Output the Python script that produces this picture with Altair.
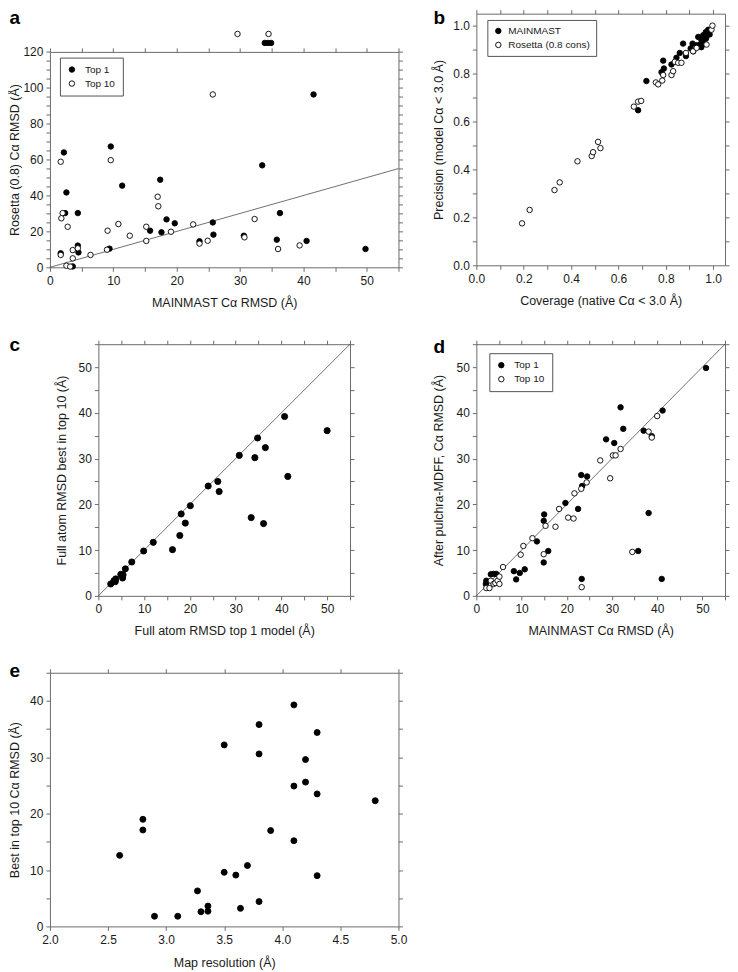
import altair as alt
import pandas as pd

FONT = "Liberation Sans"
AXC = "#6b6b6b"
TXT = "#1a1a1a"

# ---------------- panel a ----------------
a_top1_x = [2.2, 2.6, 2.4, 1.7, 4.4, 4.4, 4.5, 3.6, 9.6, 9.4, 11.4, 17.4, 15.8, 17.6, 18.4, 19.7,
            25.7, 25.8, 23.6, 30.6, 33.5, 35.8, 36.3, 40.5, 41.6, 49.8, 33.9, 34.4, 34.9]
a_top1_y = [64.0, 41.7, 30.2, 7.8, 30.2, 12.1, 8.3, 0.5, 67.3, 10.4, 45.5, 48.8, 20.4, 19.5, 26.7, 24.5,
            25.0, 18.2, 14.5, 17.6, 56.8, 15.4, 30.2, 14.7, 96.3, 10.2, 125, 125, 125]
a_top10_x = [1.7, 2.0, 1.8, 2.8, 1.7, 2.6, 3.2, 3.6, 3.6, 4.4, 6.4, 9.1, 9.0, 9.6, 10.8, 12.6, 15.2,
             15.2, 17.0, 17.1, 19.1, 22.6, 23.6, 24.9, 25.7, 30.7, 32.3, 36.0, 39.4, 29.6, 34.5]
a_top10_y = [58.8, 30.2, 27.3, 22.6, 6.9, 0.9, 0.4, 5.0, 9.6, 10.6, 6.9, 20.4, 9.8, 59.7, 24.1, 17.6, 22.6,
             14.7, 39.3, 34.0, 19.8, 23.9, 13.2, 14.8, 96.3, 16.7, 26.9, 10.2, 12.2, 130, 130]
a_series = ["Top 1", "Top 10"]

# ---------------- panel b ----------------
b_main_x = [0.683, 0.718, 0.782, 0.789, 0.792, 0.824, 0.845, 0.859, 0.873, 0.885, 0.905, 0.913, 0.916,
            0.930, 0.937, 0.946, 0.951, 0.958, 0.964, 0.964, 0.969, 0.979, 0.970, 0.950, 0.985]
b_main_y = [0.647, 0.769, 0.806, 0.854, 0.821, 0.838, 0.866, 0.886, 0.925, 0.873, 0.905, 0.925, 0.893,
            0.918, 0.953, 0.922, 0.939, 0.960, 0.925, 0.953, 0.973, 0.983, 0.946, 0.910, 0.963]
b_ros_x = [0.193, 0.225, 0.330, 0.352, 0.427, 0.487, 0.493, 0.514, 0.524, 0.665, 0.683, 0.696, 0.758,
           0.768, 0.785, 0.789, 0.824, 0.831, 0.838, 0.852, 0.866, 0.885, 0.915, 0.930, 0.972, 0.993, 0.997]
b_ros_y = [0.175, 0.231, 0.314, 0.346, 0.434, 0.456, 0.472, 0.515, 0.489, 0.662, 0.683, 0.686, 0.763,
           0.755, 0.771, 0.794, 0.794, 0.810, 0.849, 0.845, 0.845, 0.886, 0.893, 0.907, 0.921, 0.983, 1.000]
b_series = ["MAINMAST", "Rosetta (0.8 cons)"]

# ---------------- panel c ----------------
c_x = [2.7, 3.4, 3.8, 3.7, 4.9, 5.4, 5.3, 5.9, 7.3, 9.9, 12.0, 16.2, 17.8, 19.0, 18.1, 20.1, 24.0,
       26.1, 26.4, 30.8, 34.2, 34.8, 36.5, 40.7, 41.4, 50.0, 33.4, 36.1]
c_y = [2.6, 3.3, 3.7, 3.1, 4.7, 4.6, 3.9, 5.9, 7.4, 9.8, 11.7, 10.1, 13.2, 15.9, 17.9, 19.7, 24.0,
       25.0, 22.8, 30.7, 30.2, 34.5, 32.4, 39.2, 26.1, 36.1, 17.1, 15.8]

# ---------------- panel d ----------------
d_top1_x = [2.2, 2.1, 3.2, 3.8, 4.4, 8.3, 8.8, 9.6, 10.7, 13.4, 14.9, 15.9, 14.9, 15.0, 19.7, 22.5,
            23.3, 23.2, 24.5, 23.4, 28.7, 30.5, 31.9, 32.5, 37.0, 38.8, 38.1, 35.8, 41.0, 41.2, 50.8]
d_top1_y = [3.3, 2.6, 4.7, 4.8, 4.8, 5.4, 3.6, 5.0, 5.8, 11.9, 7.3, 9.8, 16.4, 17.8, 20.3, 19.0,
            3.7, 26.4, 26.1, 24.0, 34.2, 33.4, 41.2, 36.5, 36.1, 34.9, 18.1, 9.8, 3.7, 40.5, 49.8]
d_top10_x = [2.2, 2.9, 3.2, 3.8, 4.2, 4.7, 5.1, 5.1, 5.9, 9.8, 10.4, 12.4, 14.9, 15.3, 17.5, 18.3,
             20.3, 21.5, 21.7, 23.2, 24.4, 23.3, 27.4, 29.6, 30.2, 30.8, 31.9, 34.5, 38.1, 38.8, 40.0]
d_top10_y = [1.7, 1.7, 3.3, 2.6, 2.8, 3.3, 4.2, 2.6, 6.3, 9.0, 10.9, 12.6, 9.1, 15.3, 15.1, 19.0,
             17.1, 16.9, 22.4, 23.4, 24.8, 1.9, 29.6, 25.7, 30.7, 30.7, 32.1, 9.6, 35.9, 34.6, 39.3]

# ---------------- panel e ----------------
e_x = [2.6, 2.8, 2.8, 2.9, 3.1, 3.27, 3.3, 3.36, 3.36, 3.5, 3.5, 3.6, 3.64, 3.7, 3.8, 3.8, 3.8,
       3.9, 4.1, 4.1, 4.1, 4.2, 4.2, 4.3, 4.3, 4.3, 4.8]
e_y = [12.6, 19.0, 17.1, 1.8, 1.8, 6.3, 2.6, 3.6, 2.7, 32.2, 9.6, 9.1, 3.2, 10.8, 35.8, 30.6, 4.4,
       17.0, 39.3, 24.9, 15.2, 29.6, 25.6, 34.4, 23.5, 9.0, 22.3]

# identity line end points
id_x = [0, 55]
id_y = [0, 55]

# tick values / labels
t55 = [0, 5, 10, 15, 20, 25, 30, 35, 40, 45, 50, 55]
t120 = [0, 5, 10, 15, 20, 25, 30, 35, 40, 45, 50, 55, 60, 65, 70, 75, 80, 85, 90, 95, 100,
        105, 110, 115, 120]
t45 = [0, 5, 10, 15, 20, 25, 30, 35, 40, 45]
t1 = [0.0, 0.1, 0.2, 0.3, 0.4, 0.5, 0.6, 0.7, 0.8, 0.9, 1.0]
te = [2.0, 2.5, 3.0, 3.5, 4.0, 4.5, 5.0]

EXPR10 = "datum.value % 10 === 0 ? datum.label : ''"
EXPR20 = "datum.value % 20 === 0 ? datum.label : ''"
EXPR02 = "round(datum.value * 10) % 2 === 0 ? datum.label : ''"
NBSP = "\u00a0"


def axis(orient, values, labels=True, label_expr=None, fmt=None, title=None, title_pad=10,
         offset=None, letter=None, label_pad=4):
    kw = dict(orient=orient, values=values, grid=False, tickSize=4, tickWidth=1, tickColor=AXC,
              domainColor=AXC, domainWidth=1, labelFont=FONT, labelFontSize=12, labelColor=TXT,
              labelPadding=label_pad, labelFlush=False, labelOverlap=False, titleFont=FONT,
              titleFontSize=12.5, titleFontWeight="normal", titleColor=TXT, titlePadding=title_pad,
              title=title)
    if not labels:
        kw["labels"] = False
    if label_expr is not None:
        kw["labelExpr"] = label_expr
    if fmt is not None:
        kw["format"] = fmt
    if offset is not None:
        kw["offset"] = offset
    if letter is not None:
        text, lx, ly = letter
        kw.update(title=text, titleX=lx, titleY=ly, titleAlign="left", titleAnchor="start",
                  titleBaseline="top", titleAngle=0, titleFontSize=19,
                  titleFontWeight="bold", titleColor="black")
    return alt.Axis(**kw)


def legend(lx, ly, extra="", pad=6, loff=5):
    kw = dict(title=None, orient="none", legendX=lx, legendY=ly, fillColor="white",
              strokeColor="#555555", padding=pad, rowPadding=4, symbolType="circle", symbolSize=30,
              symbolStrokeColor="black", symbolStrokeWidth=0.9, labelFont=FONT, labelFontSize=10,
              labelColor=TXT, labelOffset=loff)
    if extra:
        kw["labelExpr"] = "datum.label + '" + extra + "'"
    return alt.Legend(**kw)


def panel(df, xdom, ydom, xvals, yvals, xexpr, yexpr, xfmt, yfmt, xtitle, ytitle, ytp, w, h,
          letter, size, fill, yrange=None, top_offset=None, identity=False, xtp=10):
    xs = alt.Scale(domain=xdom, nice=False, zero=False)
    ys_kw = dict(domain=ydom, nice=False, zero=False)
    if yrange is not None:
        ys_kw["range"] = yrange
    ys = alt.Scale(**ys_kw)

    pts = alt.Chart(df).mark_point(shape="circle", filled=True, opacity=1, stroke="black",
                                   strokeWidth=0.9, size=size).encode(
        x=alt.X("x:Q", scale=xs, axis=axis("bottom", xvals, label_expr=xexpr, fmt=xfmt,
                                           title=xtitle, title_pad=xtp)),
        y=alt.Y("y:Q", scale=ys, axis=axis("left", yvals, label_expr=yexpr, fmt=yfmt, title=ytitle,
                                           title_pad=ytp, label_pad=3)),
        fill=fill,
    )
    frame = alt.Chart(df).mark_point(opacity=0).encode(
        x=alt.X("x:Q", scale=xs, axis=axis("top", xvals, labels=False, offset=top_offset,
                                           letter=letter)),
        y=alt.Y("y:Q", scale=ys, axis=axis("right", yvals, labels=False)),
    )
    layers = []
    if identity:
        ident = alt.Chart(pd.DataFrame({"x": id_x, "y": id_y})).mark_line(
            color="#333333", strokeWidth=0.7).encode(
            x=alt.X("x:Q", scale=xs, axis=None),
            y=alt.Y("y:Q", scale=ys, axis=None),
        )
        layers.append(ident)
    layers += [pts, frame]
    return alt.layer(*layers).resolve_axis(x="independent", y="independent").properties(
        width=w, height=h)


df_a = pd.DataFrame({"x": a_top1_x + a_top10_x, "y": a_top1_y + a_top10_y,
                     "s": [a_series[0]] * len(a_top1_x) + [a_series[1]] * len(a_top10_x)})
df_b = pd.DataFrame({"x": b_main_x + b_ros_x, "y": b_main_y + b_ros_y,
                     "s": [b_series[0]] * len(b_main_x) + [b_series[1]] * len(b_ros_x)})
df_c = pd.DataFrame({"x": c_x, "y": c_y})
df_d = pd.DataFrame({"x": d_top1_x + d_top10_x, "y": d_top1_y + d_top10_y,
                     "s": [a_series[0]] * len(d_top1_x) + [a_series[1]] * len(d_top10_x)})
df_e = pd.DataFrame({"x": e_x, "y": e_y})

fill_a = alt.Fill("s:N", scale=alt.Scale(domain=a_series, range=["black", "white"]),
                  legend=legend(10, 44, NBSP * 11, pad=7, loff=8))
fill_b = alt.Fill("s:N", scale=alt.Scale(domain=b_series, range=["black", "white"]),
                  legend=legend(11, 6.3, NBSP * 3))
fill_d = alt.Fill("s:N", scale=alt.Scale(domain=a_series, range=["black", "white"]),
                  legend=legend(13, 9, NBSP * 11, pad=7, loff=8))

pa = panel(df_a, [0, 55], [0, 120], t55, t120, EXPR10, EXPR20, None, None,
           "MAINMAST Cα RMSD (Å)", "Rosetta (0.8) Cα RMSD (Å)", 1, 349, 254,
           ("a", -41, -4.7 - 38.3), 30, fill_a, yrange=[254, 38.3], top_offset=-38.3, identity=True)
pb = panel(df_b, [0, 1.05], [0, 1.05], t1, t1, EXPR02, EXPR02, ".1f", ".1f",
           "Coverage (native Cα < 3.0 Å)", "Precision (model Cα < 3.0 Å)", 7.5, 249, 252,
           ("b", -43.3, -4.7), 30, fill_b)
pc = panel(df_c, [0, 55], [0, 55], t55, t55, EXPR10, EXPR10, None, None,
           "Full atom RMSD top 1 model (Å)", "Full atom RMSD best in top 10 (Å)", 10, 252, 252,
           ("c", -89.5, -9), 38, alt.value("black"), identity=True)
pd_ = panel(df_d, [0, 55], [0, 55], t55, t55, EXPR10, EXPR10, None, None,
            "MAINMAST Cα RMSD (Å)", "After pulchra-MDFF, Cα RMSD (Å)", 11, 249, 252,
            ("d", -43.3, -6.3), 30, fill_d, identity=True)
pe = panel(df_e, [2.0, 5.0], [0, 45], te, t45, None, EXPR10, ".1f", None,
           "Map resolution (Å)", "Best in top 10 Cα RMSD (Å)", 8, 349, 254,
           ("e", -41, -11.6), 36, alt.value("black"), xtp=11)

chart = alt.concat(pa, pb, pc, pd_, pe, columns=2, spacing={"row": 77, "column": 78},
                   bounds="flush", align="each", center={"row": False, "column": True},
                   padding=0).resolve_scale(fill="independent").configure_view(stroke=None)

chart.save("out.html", embed_options={"renderer": "svg", "actions": False})
